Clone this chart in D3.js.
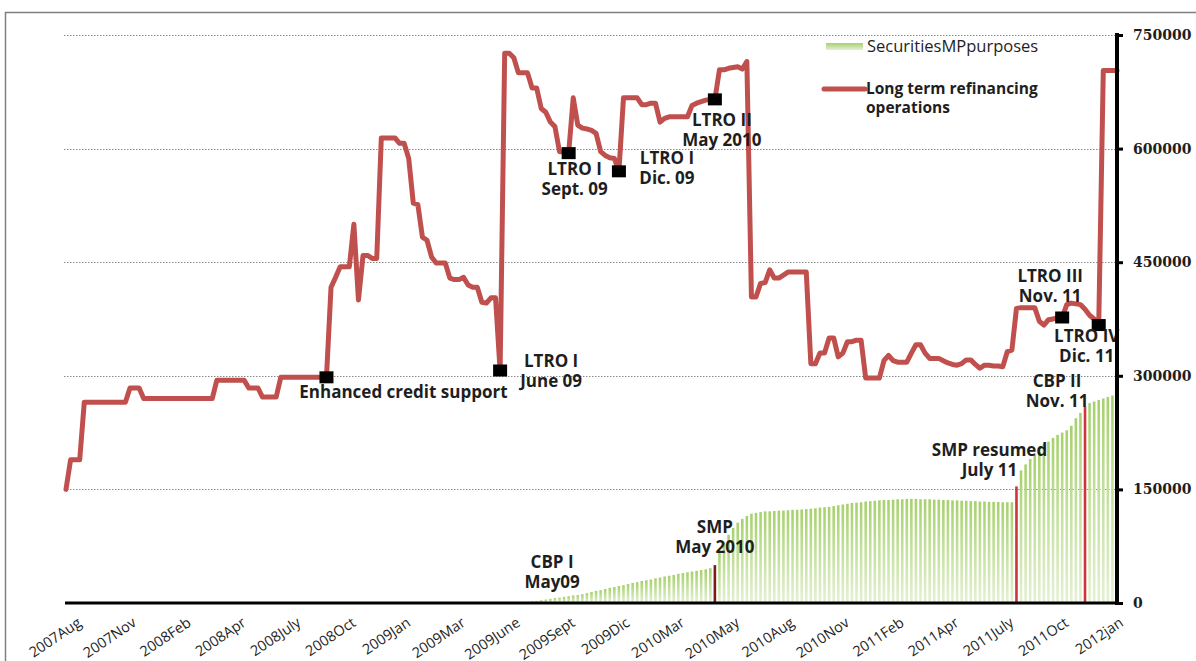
<!DOCTYPE html>
<html>
<head>
<meta charset="utf-8">
<script src="https://cdn.jsdelivr.net/npm/d3@7"></script>
<style>
  body { margin: 0; background: #ffffff; }
  svg { display: block; }
</style>
</head>
<body>
<svg id="chart" width="1196" height="661"></svg>
<script>
// Weekly category axis: one label every 12 weeks
const weekTickLabels = ["2007Aug", "2007Nov", "2008Feb", "2008Apr", "2008July", "2008Oct",
  "2009Jan", "2009Mar", "2009June", "2009Sept", "2009Dic", "2010Mar", "2010May",
  "2010Aug", "2010Nov", "2011Feb", "2011Apr", "2011July", "2011Oct", "2012jan"];
const weeksPerLabel = 12;

// Long term refinancing operations, weekly (EUR mn)
const ltroValues = [
  150000, 189000, 189000, 189000, 265000, 265000, 265000, 265000, 265000, 265000,
  265000, 265000, 265000, 265000, 284000, 284000, 284000, 270000, 270000, 270000,
  270000, 270000, 270000, 270000, 270000, 270000, 270000, 270000, 270000, 270000,
  270000, 270000, 270000, 294000, 294000, 294000, 294000, 294000, 294000, 294000,
  284000, 284000, 284000, 272000, 272000, 272000, 272000, 298000, 298000, 298000,
  298000, 298000, 298000, 298000, 298000, 298000, 298000, 298000, 417000, 430000,
  444000, 444000, 444000, 500000, 400000, 459000, 459000, 455000, 455000, 614000,
  614000, 614000, 614000, 607000, 607000, 587000, 528000, 526000, 483000, 479000,
  457000, 449000, 449000, 449000, 429000, 427000, 427000, 430000, 420000, 417000,
  417000, 397000, 396000, 403000, 403000, 307000, 726000, 726000, 720000, 700000,
  700000, 700000, 680000, 680000, 653000, 648000, 635000, 629000, 596000, 596000,
  594000, 667000, 631000, 627000, 626000, 624000, 620000, 596000, 591000, 588000,
  587000, 570000, 667000, 667000, 667000, 667000, 658000, 658000, 660000, 660000,
  635000, 640000, 642000, 642000, 642000, 642000, 642000, 657000, 660000, 662000,
  664000, 665000, 665000, 704000, 704000, 706000, 707000, 708000, 705000, 715000,
  404000, 404000, 422000, 423000, 440000, 429000, 429000, 433000, 437000, 437000,
  437000, 437000, 437000, 316000, 316000, 330000, 330000, 350000, 350000, 325000,
  330000, 345000, 345000, 347000, 347000, 297000, 297000, 297000, 297000, 320000,
  327000, 320000, 318000, 318000, 318000, 330000, 341000, 341000, 330000, 323000,
  323000, 323000, 320000, 317000, 315000, 314000, 316000, 321000, 321000, 315000,
  310000, 314000, 314000, 313000, 313000, 312000, 332000, 334000, 389000, 390000,
  390000, 390000, 390000, 372000, 367000, 374000, 375000, 377000, 377000, 394000,
  396000, 395000, 394000, 388000, 380000, 375000, 367000, 703000, 703000, 703000,
  703000
];

// Securities held for monetary policy purposes, weekly from week 102 (EUR mn)
const securitiesFirstWeek = 102;
const securitiesValues = [
  1700, 2500, 3500, 4500, 5500, 6500, 7000, 8000, 9000, 10000,
  10500, 11500, 13000, 14500, 16000, 17000, 18500, 20000, 21000, 22500,
  23500, 25000, 26500, 27500, 29000, 30000, 31000, 32500, 33500, 35000,
  36000, 37000, 38500, 39500, 40500, 41500, 42500, 43500, 44500, 46000,
  50000, 66000, 80000, 90000, 99000, 106000, 111000, 115000, 118000, 119000,
  120000, 121000, 121000, 121500, 122000, 122000, 122500, 123000, 123000, 123500,
  124000, 124500, 125000, 126000, 126500, 127000, 128000, 129000, 130000, 131000,
  132000, 132500, 133000, 134000, 134500, 135000, 135500, 136000, 136000, 136500,
  137000, 137000, 137500, 137500, 137500, 137000, 137000, 137000, 136500, 136500,
  136000, 136000, 135500, 135500, 135000, 135000, 134500, 134500, 134000, 134000,
  133500, 133500, 133500, 133000, 133000, 133000, 154000, 175000, 183000, 190000,
  196000, 203000, 210000, 213000, 218000, 222000, 225000, 228000, 234000, 244000,
  251000, 259000, 264000, 266000, 268000, 270000, 272000, 274000, 276000
];

// Programme start weeks shown as highlighted bars
const programmeWeeks = [102, 142, 208, 223];
const programmeNotes = [["CBP I", "May09"], ["SMP", "May 2010"], ["SMP resumed", "July 11"], ["CBP II", "Nov. 11"]];

// Refinancing operation weeks marked on the line
const operationWeeks = [57, 95, 110, 121, 142, 218, 226];
const operationNotes = [["Enhanced credit support"], ["LTRO I", "June 09"], ["LTRO I", "Sept. 09"],
  ["LTRO I", "Dic. 09"], ["LTRO II", "May 2010"], ["LTRO III", "Nov. 11"], ["LTRO IV", "Dic. 11"]];

const valueTicks = [0, 150000, 300000, 450000, 600000, 750000];
const seriesNames = ["SecuritiesMPpurposes", "Long term refinancing", "operations"];

// ---- layout ----
const svg = d3.select("#chart");
const plotLeft = 66, plotRight = 1117, plotTop = 35, plotBottom = 603;
const x = d3.scaleLinear().domain([0, ltroValues.length - 1]).range([plotLeft, plotRight]);
const y = d3.scaleLinear().domain([0, 750000]).range([plotBottom, plotTop]);

const LINE_RED = "#c0504d";
const TEXT = "#1e1e1e";
const labelFont = "'Open Sans', 'Liberation Sans', sans-serif";

// outer frame
svg.append("rect").attr("x", 5.5).attr("y", 12.5).attr("width", 1300).attr("height", 800)
  .attr("fill", "none").attr("stroke", "#808080").attr("stroke-width", 1.5);

const defs = svg.append("defs");
const grad = defs.append("linearGradient").attr("id", "barFill")
  .attr("x1", 0).attr("y1", 0).attr("x2", 0).attr("y2", 1);
grad.append("stop").attr("offset", "0%").attr("stop-color", "#a6d16c");
grad.append("stop").attr("offset", "100%").attr("stop-color", "#e4f1d3");

// gridlines
svg.append("g").selectAll("line").data(valueTicks.filter(v => v > 0)).join("line")
  .attr("x1", plotLeft - 2).attr("x2", plotRight)
  .attr("y1", d => Math.round(y(d)) + 0.5).attr("y2", d => Math.round(y(d)) + 0.5)
  .attr("stroke", "#8a8a8a").attr("stroke-width", 1).attr("stroke-dasharray", "1.5,1.5");

// securities bars
const barData = securitiesValues.map((v, i) => ({ week: securitiesFirstWeek + i, value: v }));
const barW = 2.6;
svg.append("g").selectAll("rect").data(barData).join("rect")
  .attr("x", d => x(d.week) - barW / 2)
  .attr("y", d => y(d.value))
  .attr("width", barW)
  .attr("height", d => y(0) - y(d.value))
  .attr("fill", d => {
    const k = programmeWeeks.indexOf(d.week);
    if (k === 1) return "#7a1c1c";
    if (k >= 0) return "#d0343a";
    return "url(#barFill)";
  });

// refinancing line
const line = d3.line().x((d, i) => x(i)).y(d => y(d));
svg.append("path").datum(ltroValues).attr("d", line)
  .attr("fill", "none").attr("stroke", LINE_RED).attr("stroke-width", 5)
  .attr("stroke-linejoin", "round").attr("stroke-linecap", "round");

// operation markers
svg.append("g").selectAll("rect").data(operationWeeks).join("rect")
  .attr("x", w => x(w) - 7).attr("y", w => y(ltroValues[w]) - 6)
  .attr("width", 14).attr("height", 12).attr("fill", "#000");

// annotation helper: centred multi-line bold text
function note(lines, cx, baseline, step) {
  const t = svg.append("text").attr("font-family", labelFont).attr("font-weight", 700)
    .attr("font-size", 17).attr("fill", TEXT).attr("text-anchor", "middle");
  lines.forEach((s, i) => t.append("tspan").attr("x", cx).attr("y", baseline + i * step).text(s));
}

// offsets of each note relative to its marked point
const operationNoteOffsets = [[77, 21], [51, -3], [6, 22], [48, -7], [7, 27], [-12, -35], [-12, 17]];
operationWeeks.forEach((w, i) => {
  const px = x(w), py = y(ltroValues[w]);
  note(operationNotes[i], px + operationNoteOffsets[i][0], py + operationNoteOffsets[i][1], 20);
});

const programmeNoteOffsets = [[20, -34], [0, -32], [-27, -30], [-28, -20]];
programmeWeeks.forEach((w, i) => {
  const v = securitiesValues[w - securitiesFirstWeek];
  note(programmeNotes[i], x(w) + programmeNoteOffsets[i][0], y(v) + programmeNoteOffsets[i][1], 20);
});

// bottom category axis
const xAxis = d3.axisBottom(x)
  .tickValues(weekTickLabels.map((_, i) => i * weeksPerLabel))
  .tickFormat((d, i) => weekTickLabels[i])
  .tickSize(0);
const gx = svg.append("g").attr("transform", `translate(0,${plotBottom})`).call(xAxis);
gx.select(".domain").remove();
gx.selectAll("text")
  .attr("x", 0).attr("y", 0).attr("dy", 0)
  .attr("transform", "translate(16,22) rotate(-34)")
  .attr("text-anchor", "end")
  .attr("font-family", labelFont).attr("font-size", 14.5).attr("fill", TEXT);

svg.append("line").attr("x1", plotLeft - 1).attr("x2", plotRight).attr("y1", plotBottom).attr("y2", plotBottom)
  .attr("stroke", "#000").attr("stroke-width", 3);

// right value axis
const yAxis = d3.axisRight(y).tickValues(valueTicks).tickFormat(d3.format("d")).tickSize(6).tickPadding(10);
const gy = svg.append("g").attr("transform", `translate(${plotRight},0)`).call(yAxis);
gy.select(".domain").remove();
gy.selectAll(".tick line").attr("stroke", "#000").attr("stroke-width", 3);
gy.selectAll("text").attr("font-family", "'DejaVu Serif', 'Liberation Serif', serif")
  .attr("font-weight", 700).attr("font-size", 14).attr("fill", TEXT);
svg.append("line").attr("x1", plotRight).attr("x2", plotRight).attr("y1", plotTop - 2).attr("y2", plotBottom + 2)
  .attr("stroke", "#000").attr("stroke-width", 4);

// legend
const lg = svg.append("g");
lg.append("rect").attr("x", 826).attr("y", 43).attr("width", 37).attr("height", 7).attr("fill", "url(#barFill)");
lg.append("text").attr("x", 867).attr("y", 52).text(seriesNames[0])
  .attr("font-family", labelFont).attr("font-size", 16.5).attr("fill", TEXT);
lg.append("line").attr("x1", 824).attr("x2", 865).attr("y1", 89).attr("y2", 89)
  .attr("stroke", LINE_RED).attr("stroke-width", 5).attr("stroke-linecap", "round");
const lt = lg.append("text").attr("font-family", labelFont).attr("font-weight", 700)
  .attr("font-size", 15.5).attr("fill", TEXT);
lt.append("tspan").attr("x", 866).attr("y", 94).text(seriesNames[1]);
lt.append("tspan").attr("x", 866).attr("y", 113).text(seriesNames[2]);
</script>
</body>
</html>
